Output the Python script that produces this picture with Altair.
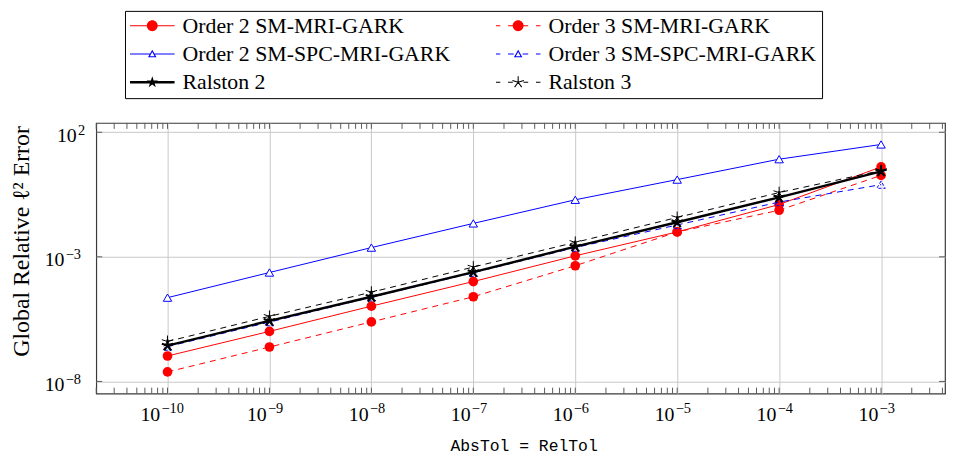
import math
import pandas as pd
import altair as alt

# ---------------- data ----------------
tols = [1e-10, 1e-9, 1e-8, 1e-7, 1e-6, 1e-5, 1e-4, 1e-3]
series_names = [
    "Order 2 SM-MRI-GARK",
    "Order 3 SM-MRI-GARK",
    "Order 2 SM-SPC-MRI-GARK",
    "Order 3 SM-SPC-MRI-GARK",
    "Ralston 2",
    "Ralston 3",
]
err_o2_mri = [1.05e-7, 1.02e-6, 1.05e-5, 1.02e-4, 1.10e-3, 1.0e-2, 0.126, 4.07]
err_o3_mri = [2.4e-8, 2.4e-7, 2.45e-6, 2.5e-5, 4.4e-4, 1.0e-2, 7.4e-2, 1.86]
err_o2_spc = [2.3e-5, 2.35e-4, 2.35e-3, 2.2e-2, 0.195, 1.26, 8.3, 32.4]
err_o3_spc = [2.5e-7, 2.4e-6, 2.4e-5, 2.3e-4, 2.35e-3, 1.9e-2, 0.158, 0.79]
err_ral2 = [2.75e-7, 2.7e-6, 2.5e-5, 2.45e-4, 2.57e-3, 2.45e-2, 0.245, 2.7]
err_ral3 = [4.0e-7, 4.1e-6, 3.8e-5, 3.9e-4, 3.8e-3, 3.8e-2, 0.38, 2.9]

# tick labels: base "10" plus exponent text
x_tick_base = ["10", "10", "10", "10", "10", "10", "10", "10"]
x_tick_exp = ["−10", "−9", "−8", "−7", "−6", "−5", "−4", "−3"]
y_tick_values = [1e-8, 1e-3, 1e2]
y_tick_base = ["10", "10", "10"]
y_tick_exp = ["−8", "−3", "2"]

all_errs = [err_o2_mri, err_o3_mri, err_o2_spc, err_o3_spc, err_ral2, err_ral3]
rows = []
for name, errs in zip(series_names, all_errs):
    for t, e in zip(tols, errs):
        rows.append({"tol": t, "err": e, "series": name})
df = pd.DataFrame(rows)

xlab_df = pd.DataFrame({"tol": tols, "base": x_tick_base, "exp": x_tick_exp})
xlab_df["nchar"] = xlab_df["exp"].str.len()
ylab_df = pd.DataFrame({"err": y_tick_values, "base": y_tick_base, "exp": y_tick_exp})
ylab_df["nchar"] = ylab_df["exp"].str.len()

# ---------------- geometry / style ----------------
W, H = 856, 273
X_DOMAIN = [2.0e-11, 4.24e-3]
Y_DOMAIN = [3.24e-9, 237.0]

minor_x = []
for k in range(-11, -2):
    for m in range(1, 10):
        v = m * 10.0 ** k
        if X_DOMAIN[0] * 0.999 <= v <= X_DOMAIN[1]:
            minor_x.append(v)
ticks_df = pd.DataFrame({"tol": minor_x})
yt_df = pd.DataFrame({"err": y_tick_values})

xscale = alt.Scale(type="log", domain=X_DOMAIN, nice=False)
yscale = alt.Scale(type="log", domain=Y_DOMAIN, nice=False)

x_axis = alt.Axis(
    values=tols, grid=True, ticks=False, domain=False, labels=False,
    title="AbsTol = RelTol", titleFont="Liberation Mono", titleFontSize=16.5,
    titleFontWeight="normal", titleX=431, titleY=57, titleBaseline="alphabetic",
)
y_axis = alt.Axis(
    values=y_tick_values, grid=True, ticks=False, domain=False, labels=False,
    title="Global Relative ℓ² Error", titleFont="Liberation Serif", titleFontSize=24,
    titleFontWeight="normal", titleX=-63, titleY=119,
)

x_enc = alt.X("tol:Q", scale=xscale, axis=x_axis)
y_enc = alt.Y("err:Q", scale=yscale, axis=y_axis)

DASH = [6, 5]
STAR_LINES = "M0,0L0,-1M0,0L0.951,-0.309M0,0L0.588,0.809M0,0L-0.588,0.809M0,0L-0.951,-0.309"

line_styles = {
    "Order 2 SM-MRI-GARK": dict(color="#ff0000", width=1.0, dash=None),
    "Order 3 SM-MRI-GARK": dict(color="#ff0000", width=1.0, dash=DASH),
    "Order 2 SM-SPC-MRI-GARK": dict(color="#0000ff", width=1.0, dash=None),
    "Order 3 SM-SPC-MRI-GARK": dict(color="#0000ff", width=1.0, dash=DASH),
    "Ralston 2": dict(color="#000000", width=2.4, dash=None),
    "Ralston 3": dict(color="#000000", width=1.0, dash=DASH),
}
point_styles = {
    "Order 2 SM-MRI-GARK": dict(shape="circle", size=95, filled=True, color="#ff0000", opacity=1),
    "Order 3 SM-MRI-GARK": dict(shape="circle", size=95, filled=True, color="#ff0000", opacity=1),
    "Order 2 SM-SPC-MRI-GARK": dict(shape="triangle-up", size=72, filled=False, stroke="#0000ff",
                                    fill="#ffffff", strokeWidth=1, opacity=1),
    "Order 3 SM-SPC-MRI-GARK": dict(shape="triangle-up", size=72, filled=False, stroke="#0000ff",
                                    strokeWidth=1, opacity=1, strokeDash=[3, 2]),
    "Ralston 2": dict(shape=STAR_LINES, size=144, filled=False, stroke="#000000", strokeWidth=2.2, opacity=1),
    "Ralston 3": dict(shape=STAR_LINES, size=144, filled=False, stroke="#000000", strokeWidth=1, opacity=1),
}

# ---------------- legend symbol paths (filled geometry) ----------------
def f(v):
    return ("%.3f" % v).rstrip("0").rstrip(".") if v != 0 else "0"

def rect(x0, x1, hw):
    return "M%s,%sH%sV%sH%sZ" % (f(x0), f(-hw), f(x1), f(hw), f(x0))

def circle(r):
    return "M%s,0A%s,%s,0,1,1,%s,0A%s,%s,0,1,1,%s,0Z" % (f(-r), f(r), f(r), f(r), f(r), f(r), f(-r))

def tri_ring():
    outer = [(0, -0.19), (0.19, 0.15), (-0.19, 0.15)]
    inner = [(0, -0.088), (-0.105, 0.1), (0.105, 0.1)]
    p = "M%s,%sL%s,%sL%s,%sZ" % tuple(f(c) for pt in outer for c in pt)
    p += "M%s,%sL%s,%sL%s,%sZ" % tuple(f(c) for pt in inner for c in pt)
    return p

def star_poly(R=0.27, r=0.105):
    pts = []
    for i in range(10):
        ang = math.radians(-90 + 36 * i)
        rad = R if i % 2 == 0 else r
        pts.append((rad * math.cos(ang), rad * math.sin(ang)))
    return "M" + "L".join("%s,%s" % (f(x), f(y)) for x, y in pts) + "Z"

def star_arms(R=0.27, w=0.024):
    p = ""
    for i in range(5):
        ang = math.radians(-90 + 72 * i)
        d = (math.cos(ang), math.sin(ang))
        n = (-d[1], d[0])
        p1 = (w * n[0], w * n[1])
        p2 = (R * d[0] + w * n[0], R * d[1] + w * n[1])
        p3 = (R * d[0] - w * n[0], R * d[1] - w * n[1])
        p4 = (-w * n[0], -w * n[1])
        pts = [p4, p3, p2, p1]
        p += "M" + "L".join("%s,%s" % (f(x), f(y)) for x, y in pts) + "Z"
    return p

THIN = 0.025
THICK = 0.058
dashes_c = [(-1, -0.8), (-0.45, -0.24), (0.24, 0.45), (0.8, 1)]
dashes_t = [(-1, -0.8), (-0.45, -0.2), (0.2, 0.45), (0.8, 1)]

legend_paths = [
    rect(-1, 1, THIN) + circle(0.244),
    "".join(rect(a, b, THIN) for a, b in dashes_c) + circle(0.244),
    rect(-1, -0.106, THIN) + rect(0.106, 1, THIN) + tri_ring(),
    "".join(rect(a, b, THIN) for a, b in dashes_t) + tri_ring(),
    rect(-1, 1, THICK) + star_poly(),
    "".join(rect(a, b, THIN) for a, b in dashes_c) + star_arms(),
]
legend_colors = ["#ff0000", "#ff0000", "#0000ff", "#0000ff", "#000000", "#000000"]

# ---------------- layers ----------------
base = alt.Chart(df)
layers = []
for name in series_names:
    ls = line_styles[name]
    kw = dict(color=ls["color"], strokeWidth=ls["width"])
    if ls["dash"] is not None:
        kw["strokeDash"] = ls["dash"]
    layers.append(
        base.transform_filter(alt.datum.series == name).mark_line(**kw).encode(x=x_enc, y=y_enc)
    )
    layers.append(
        base.transform_filter(alt.datum.series == name).mark_point(**point_styles[name]).encode(x=x_enc, y=y_enc)
    )

tick_color = "#5a5a5a"
layers.append(alt.Chart(ticks_df).mark_rule(color=tick_color, strokeWidth=1).encode(
    x=x_enc, y=alt.value(0), y2=alt.value(6)))
layers.append(alt.Chart(ticks_df).mark_rule(color=tick_color, strokeWidth=1).encode(
    x=x_enc, y=alt.value(H), y2=alt.value(H - 6)))
layers.append(alt.Chart(yt_df).mark_rule(color=tick_color, strokeWidth=1).encode(
    y=y_enc, x=alt.value(0), x2=alt.value(6)))
layers.append(alt.Chart(yt_df).mark_rule(color=tick_color, strokeWidth=1).encode(
    y=y_enc, x=alt.value(W), x2=alt.value(W - 6)))

# ---- tick labels: "10" + raised exponent ----
LAB_FONT = "Liberation Serif"
xlab = alt.Chart(xlab_df)
for nchar, shift in [(2, -2.7), (3, -7.3)]:
    sub = xlab.transform_filter(alt.datum.nchar == nchar)
    layers.append(sub.mark_text(align="right", baseline="alphabetic", font=LAB_FONT,
                                fontSize=20, dx=shift, color="black").encode(
        x=x_enc, y=alt.value(H + 28), text="base:N"))
    layers.append(sub.mark_text(align="left", baseline="alphabetic", font=LAB_FONT,
                                fontSize=14.5, dx=shift + 1.2, color="black").encode(
        x=x_enc, y=alt.value(H + 20), text="exp:N"))

ylab = alt.Chart(ylab_df)
for nchar, right in [(2, -32), (1, -19.7)]:
    sub = ylab.transform_filter(alt.datum.nchar == nchar)
    layers.append(sub.mark_text(align="right", baseline="alphabetic", font=LAB_FONT,
                                fontSize=20, dy=9.5, color="black").encode(
        y=y_enc, x=alt.value(right), text="base:N"))
    layers.append(sub.mark_text(align="left", baseline="alphabetic", font=LAB_FONT,
                                fontSize=14.5, dy=2.5, color="black").encode(
        y=y_enc, x=alt.value(right + 1.2), text="exp:N"))

legend_layer = base.transform_filter("false").mark_point(filled=True, opacity=1).encode(
    x=x_enc, y=y_enc,
    color=alt.Color("series:N", title=None,
                    scale=alt.Scale(domain=series_names, range=legend_colors)),
    shape=alt.Shape("series:N", title=None,
                    scale=alt.Scale(domain=series_names, range=legend_paths)),
)
layers.append(legend_layer)

chart = alt.layer(*layers).properties(
    width=W, height=H,
    autosize=alt.AutoSizeParams(type="none"),
    padding={"left": 89, "top": 114, "right": 2, "bottom": 60},
    background="white",
).configure_view(
    stroke="#3a3a3a", strokeWidth=1.2
).configure_axis(
    gridColor="#c8c8c8", gridWidth=1, labelColor="black", titleColor="black",
).configure_legend(
    orient="none", legendX=29, legendY=-113, columns=2, direction="horizontal",
    columnPadding=45, rowPadding=6.5,
    padding=5, strokeColor="black", fillColor="white", cornerRadius=0,
    symbolSize=2025, symbolStrokeWidth=0, symbolOpacity=1, clipHeight=20,
    labelFont="Liberation Serif", labelFontSize=22, labelColor="black",
    labelLimit=600, labelOffset=8,
)

chart.save("out.html", embed_options={"renderer": "svg", "actions": False})
